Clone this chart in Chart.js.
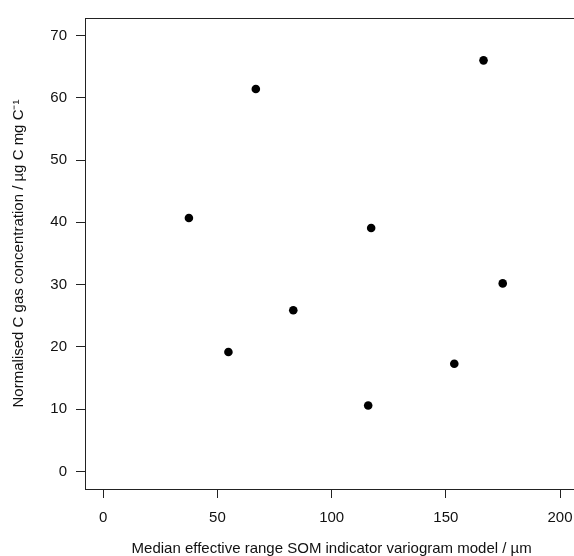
<!DOCTYPE html>
<html>
<head>
<meta charset="utf-8">
<script src="https://cdn.jsdelivr.net/npm/chart.js@4/dist/chart.umd.min.js"></script>
<style>
  html, body { margin: 0; padding: 0; background: #fff; overflow: hidden; width: 574px; height: 556px; }
  canvas { display: block; }
</style>
</head>
<body>
<canvas id="c" width="590" height="556"></canvas>
<script>
// ---- data ----
const rangeMedian = [37.5, 54.8, 66.8, 83.2, 116.0, 117.3, 153.7, 166.5, 174.9];
const gasConc     = [40.7, 19.2, 61.4, 25.9, 10.6, 39.1, 17.3, 66.0, 30.2];
const xTicks = [0, 50, 100, 150, 200];
const yTicks = [0, 10, 20, 30, 40, 50, 60, 70];
const xTitle = 'Median effective range SOM indicator variogram model / \u00b5m';
const yTitle = 'Normalised C gas concentration / \u00b5g C mg C\u207b\u00b9';

const points = rangeMedian.map((x, i) => ({ x: x, y: gasConc[i] }));
const FONT = '"Liberation Sans", Arial, Helvetica, sans-serif';

const boxPlugin = {
  id: 'box',
  afterDraw(chart) {
    const a = chart.chartArea, ctx = chart.ctx;
    ctx.save();
    ctx.strokeStyle = '#222';
    ctx.lineWidth = 1;
    ctx.strokeRect(Math.round(a.left) + 0.5, Math.round(a.top) + 0.5,
                   Math.round(a.right - a.left), Math.round(a.bottom - a.top));
    ctx.restore();
  }
};

new Chart(document.getElementById('c'), {
  type: 'scatter',
  data: {
    datasets: [{
      data: points,
      backgroundColor: '#000',
      borderWidth: 0,
      pointRadius: 4.3,
      pointHoverRadius: 4.3
    }]
  },
  options: {
    responsive: false,
    animation: false,
    events: [],
    layout: { padding: { top: 14, right: 11.7, left: 0, bottom: 0 } },
    plugins: { legend: { display: false }, tooltip: { enabled: false } },
    scales: {
      x: {
        type: 'linear',
        min: -8, max: 208,
        afterBuildTicks: s => { s.ticks = xTicks.map(v => ({ value: v })); },
        afterFit: s => { s.height = 67; },
        grid: { drawOnChartArea: false, drawTicks: true, tickLength: 9, color: '#222', lineWidth: 1 },
        border: { display: true, color: '#222', width: 1 },
        ticks: { color: '#111', font: { family: FONT, size: 15 }, padding: 10.5, maxRotation: 0, autoSkip: false },
        title: { display: true, text: xTitle, color: '#111', font: { family: FONT, size: 15 }, padding: { top: 0, bottom: -2 } }
      },
      y: {
        type: 'linear',
        min: -2.8, max: 72.8,
        afterBuildTicks: s => { s.ticks = yTicks.map(v => ({ value: v })); },
        afterFit: s => { s.width = 85; },
        grid: { drawOnChartArea: false, drawTicks: true, tickLength: 9, color: '#222', lineWidth: 1 },
        border: { display: true, color: '#222', width: 1 },
        ticks: { color: '#111', font: { family: FONT, size: 15 }, padding: 9, autoSkip: false },
        title: { display: true, text: yTitle, color: '#111', font: { family: FONT, size: 15 }, padding: { top: 9.5, bottom: 0 } }
      }
    }
  },
  plugins: [boxPlugin]
});
</script>
</body>
</html>
